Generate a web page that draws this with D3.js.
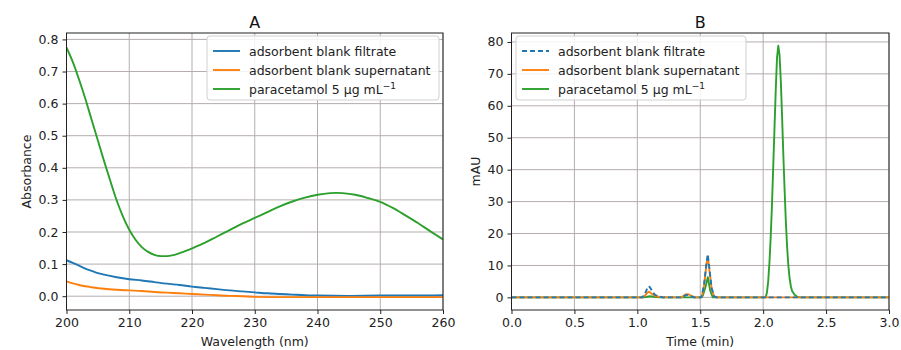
<!DOCTYPE html>
<html><head><meta charset="utf-8">
<script src="https://cdn.jsdelivr.net/npm/d3@7"></script>
<style>body{margin:0;background:#fff;}svg{font-family:"DejaVu Sans",sans-serif;}</style>
</head><body><svg id="c" width="901" height="350"></svg>
<script>
// ---- Panel A data (wavelength nm, absorbance) ----
const wlGreen = [200,201,202,203,204,205,206,207,208,209,210,211,212,213,214,215,216,217,218,219,220,222,224,226,228,230,232,234,236,238,240,242,243,244,246,248,250,252,254,256,258,260];
const absGreen = [0.775,0.73,0.675,0.615,0.55,0.485,0.42,0.358,0.298,0.248,0.207,0.176,0.153,0.138,0.129,0.125,0.125,0.128,0.134,0.141,0.149,0.166,0.186,0.206,0.226,0.244,0.262,0.280,0.295,0.307,0.316,0.321,0.322,0.321,0.316,0.306,0.294,0.275,0.252,0.228,0.202,0.177];
const wlBlue = [200,201,202,203,204,205,206,208,210,212,214,216,218,220,222,224,226,228,230,232,234,236,238,240,245,250,255,260];
const absBlue = [0.112,0.104,0.095,0.086,0.079,0.072,0.067,0.059,0.053,0.049,0.044,0.039,0.035,0.030,0.026,0.022,0.018,0.015,0.012,0.009,0.007,0.005,0.003,0.002,0.001,0.002,0.002,0.003];
const wlOrange = [200,201,202,203,204,206,208,210,212,214,216,218,220,222,224,226,228,230,235,240,245,250,255,260];
const absOrange = [0.046,0.040,0.035,0.031,0.028,0.023,0.020,0.018,0.016,0.013,0.011,0.009,0.007,0.005,0.003,0.001,0.000,-0.002,-0.003,-0.003,-0.003,-0.003,-0.003,-0.003];
const ticksA_x = [200,210,220,230,240,250,260];
const ticksA_y = [0.0,0.1,0.2,0.3,0.4,0.5,0.6,0.7,0.8];

// ---- Panel B data (time min, mAU) ----
const tBlue = [0,1.04,1.06,1.08,1.09,1.10,1.12,1.14,1.17,1.20,1.36,1.38,1.40,1.42,1.45,1.51,1.53,1.55,1.56,1.57,1.59,1.61,1.63,3.0];
const mauBlue = [0,0,1.0,3.0,3.5,3.2,1.8,0.8,0.3,0,0,0.6,0.8,0.5,0,0,4,11,13.5,10,3,0.3,0,0];
const tOrange = [0,1.04,1.06,1.08,1.09,1.10,1.12,1.14,1.17,1.20,1.35,1.37,1.39,1.41,1.43,1.46,1.51,1.53,1.55,1.56,1.57,1.59,1.61,1.63,3.0];
const mauOrange = [0,0,0.5,1.5,1.8,1.6,1.0,0.5,0.2,0,0,0.6,1.0,0.9,0.5,0,0,3.5,10.5,12.8,9.5,2.8,0.3,0,0];
const tGreen = [0,1.05,1.08,1.10,1.13,1.17,1.50,1.52,1.54,1.56,1.58,1.60,2.02,2.03,2.04,2.05,2.06,2.07,2.08,2.09,2.10,2.11,2.12,2.13,2.14,2.15,2.16,2.17,2.18,2.19,2.20,2.21,2.22,2.23,2.25,2.27,2.29,3.0];
const mauGreen = [0,0,0.2,0.4,0.2,0,0,0.5,3,6.3,2,0,0,1.5,5,11,19,29,41,53,65,75,78.8,76,68,57,45,34,24,16,10,6,3.5,2,0.8,0.2,0,0];
const ticksB_x = [0,0.5,1.0,1.5,2.0,2.5,3.0];
const ticksB_y = [0,10,20,30,40,50,60,70,80];

const legendLabels = ["adsorbent blank filtrate","adsorbent blank supernatant","paracetamol 5 µg mL"];
const colors = ["#1f77b4","#ff7f0e","#2ca02c"];

const svg = d3.select("#c");
const grid = "#b5adad", spine = "#222";
const FS = 12.5;

function panel(cfg){
  const g = svg.append("g");
  const x = d3.scaleLinear().domain(cfg.xdom).range([cfg.left, cfg.right]);
  const y = d3.scaleLinear().domain(cfg.ydom).range([cfg.bottom, cfg.top]);
  g.selectAll(".gx").data(cfg.xt).join("line").attr("x1",d=>x(d)).attr("x2",d=>x(d))
    .attr("y1",cfg.top).attr("y2",cfg.bottom).attr("stroke",grid).attr("stroke-width",1);
  g.selectAll(".gy").data(cfg.yt).join("line").attr("y1",d=>y(d)).attr("y2",d=>y(d))
    .attr("x1",cfg.left).attr("x2",cfg.right).attr("stroke",grid).attr("stroke-width",1);
  const clipId = "clip"+cfg.name;
  svg.append("clipPath").attr("id",clipId).append("rect").attr("x",cfg.left).attr("y",cfg.top)
    .attr("width",cfg.right-cfg.left).attr("height",cfg.bottom-cfg.top);
  const lg = g.append("g").attr("clip-path",`url(#${clipId})`);
  cfg.series.forEach(s=>{
    const pts = s.xs.map((v,i)=>[v,s.ys[i]]);
    lg.append("path").attr("d", d3.line().curve(cfg.curve).x(d=>x(d[0])).y(d=>y(d[1]))(pts))
      .attr("fill","none").attr("stroke",s.color).attr("stroke-width",1.9)
      .attr("stroke-dasharray",s.dash||null).attr("stroke-linejoin","round");
  });
  const ax = g.append("g").attr("transform",`translate(0,${cfg.bottom})`)
    .call(d3.axisBottom(x).tickValues(cfg.xt).tickFormat(cfg.xf).tickSize(4).tickPadding(4));
  const ay = g.append("g").attr("transform",`translate(${cfg.left},0)`)
    .call(d3.axisLeft(y).tickValues(cfg.yt).tickFormat(cfg.yf).tickSize(4).tickPadding(4));
  [ax,ay].forEach(a=>{
    a.select(".domain").remove();
    a.selectAll("line").attr("stroke",spine);
    a.selectAll("text").attr("font-size",FS).attr("fill","#222").attr("font-family","DejaVu Sans");
  });
  g.append("rect").attr("x",cfg.left).attr("y",cfg.top).attr("width",cfg.right-cfg.left)
    .attr("height",cfg.bottom-cfg.top).attr("fill","none").attr("stroke",spine).attr("stroke-width",1);
  g.append("text").attr("x",(cfg.left+cfg.right)/2).attr("y",cfg.top-5).attr("text-anchor","middle")
    .attr("font-size",16).attr("fill","#111").text(cfg.title);
  g.append("text").attr("x",(cfg.left+cfg.right)/2).attr("y",346).attr("text-anchor","middle")
    .attr("font-size",FS).attr("fill","#222").text(cfg.xlabel);
  g.append("text").attr("transform",`translate(${cfg.ylx},${(cfg.top+cfg.bottom)/2}) rotate(-90)`)
    .attr("text-anchor","middle").attr("font-size",FS).attr("fill","#222").text(cfg.ylabel);
  const L = cfg.legend;
  g.append("rect").attr("x",L.x).attr("y",L.y).attr("width",L.w).attr("height",L.h)
    .attr("rx",3).attr("fill","#fff").attr("fill-opacity",0.85).attr("stroke","#d0d0d0");
  cfg.series.slice().sort((a,b)=>a.order-b.order).forEach((s,i)=>{
    const yy = L.y+15+i*19;
    g.append("line").attr("x1",L.x+6).attr("x2",L.x+33).attr("y1",yy).attr("y2",yy)
      .attr("stroke",s.color).attr("stroke-width",1.9).attr("stroke-dasharray",s.dash||null);
    const t = g.append("text").attr("x",L.x+42).attr("y",yy+4.5).attr("font-size",FS).attr("fill","#222");
    t.append("tspan").text(legendLabels[s.order]);
    if(s.order===2){ t.append("tspan").attr("dy",-5).attr("font-size",9).text("−1"); }
  });
}

panel({name:"A", title:"A", xdom:[200,260], ydom:[-0.043,0.82], left:66.5, right:443, top:33, bottom:310,
  xt:ticksA_x, yt:ticksA_y, xf:d3.format("d"), yf:d3.format(".1f"), curve:d3.curveMonotoneX,
  xlabel:"Wavelength (nm)", ylabel:"Absorbance", ylx:31,
  legend:{x:207,y:36,w:232,h:64},
  series:[{xs:wlBlue,ys:absBlue,color:colors[0],order:0},{xs:wlOrange,ys:absOrange,color:colors[1],order:1},{xs:wlGreen,ys:absGreen,color:colors[2],order:2}]});

panel({name:"B", title:"B", xdom:[0,3], ydom:[-3.95,82.8], left:511.5, right:889, top:33, bottom:310,
  xt:ticksB_x, yt:ticksB_y, xf:d3.format(".1f"), yf:d3.format("d"), curve:d3.curveLinear,
  xlabel:"Time (min)", ylabel:"mAU", ylx:480,
  legend:{x:516,y:36,w:230,h:64},
  series:[{xs:tGreen,ys:mauGreen,color:colors[2],order:2},{xs:tOrange,ys:mauOrange,color:colors[1],order:1},{xs:tBlue,ys:mauBlue,color:colors[0],order:0,dash:"5,3"}]});
</script></body></html>
